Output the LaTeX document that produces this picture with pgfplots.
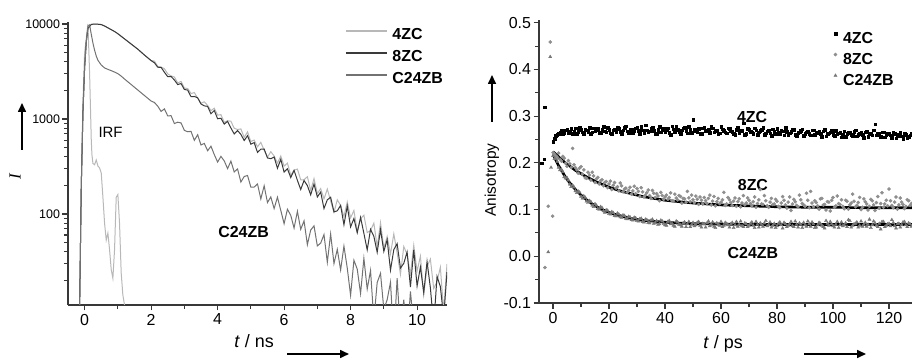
\documentclass[border=0pt]{standalone}
\usepackage{pgfplots}
\pgfplotsset{compat=1.18}
\usepackage{fontspec}
\setmainfont{Liberation Sans}
\newfontfamily\seriffont{Liberation Serif}
\usetikzlibrary{arrows.meta}
\definecolor{cA}{HTML}{B8B8B8}
\definecolor{cB}{HTML}{3A3A3A}
\definecolor{cC}{HTML}{727272}
\definecolor{axc}{HTML}{383838}
\definecolor{g8}{HTML}{8E8E8E}
\definecolor{g24}{HTML}{777777}
\begin{document}
\begin{tikzpicture}
\path[use as bounding box] (0bp,0bp) rectangle (912bp,360bp);
% ---------------- left panel ----------------
\begin{axis}[
  at={(68bp,55bp)}, anchor=south west,
  scale only axis, width=379bp, height=283bp,
  xmin=-0.5, xmax=10.9, ymode=log, ymin=11, ymax=10500,
  axis x line*=bottom, axis y line*=left,
  axis line style={line width=1.1bp, color=axc},
  xtick={0,2,4,6,8,10}, xticklabels={0,2,4,6,8,10}, minor xtick={1,3,5,7,9},
  ytick={100,1000,10000}, yticklabels={100,1000,10000},
  minor ytick={20,30,40,50,60,70,80,90,200,300,400,500,600,700,800,900,2000,3000,4000,5000,6000,7000,8000,9000},
  tick align=outside, major tick length=5.5bp, minor tick length=4bp,
  every major tick/.style={line width=1.1bp, color=axc},
  every minor tick/.style={line width=1.1bp, color=axc},
  x tick label style={font=\fontsize{16}{16}\selectfont},
  y tick label style={font=\fontsize{12.5}{12.5}\selectfont, xshift=1bp},
  legend style={draw=none, fill=none, at={(0.731,0.985)}, anchor=north west,
    font=\bfseries\fontsize{16}{16}\selectfont, row sep=5bp, inner sep=0pt,
    nodes={inner sep=1bp, text height=12bp, text depth=3bp},
    /tikz/every odd column/.append style={column sep=4bp}},
  legend cell align=left,
  legend image code/.code={\draw[#1, line width=1.2bp] (0bp,4bp) -- (41bp,4bp);},
]
% IRF
\addplot[cA, line width=1bp, forget plot] table {
x y
-0.5 2
-0.2 3
-0.15 11
-0.1 200
-0.05 1500
0 5000
0.1 10000
0.15 3000
0.2 600
0.22 420
0.25 340
0.3 330
0.35 370
0.4 320
0.45 305
0.5 270
0.55 150
0.6 80
0.65 53
0.7 63
0.75 42
0.8 26
0.85 21
0.9 42
0.95 150
1.0 160
1.05 80
1.1 24
1.15 14
1.2 11
1.25 8
1.3 3
};
% 4ZC
\addplot[cA, line width=1bp] table {
x y
-0.5 2
-0.2 3
-0.15 11
-0.1 200
-0.05 1200
0 3500
0.05 6500
0.1 9000
0.2 9900
0.3 10000
0.4 9950
0.5 9864
0.6 9531
0.7 9119
0.8 8723
0.9 8340
1.0 7904
1.1 7424
1.2 6975
1.3 6553
1.4 6156
1.5 5782
1.6 5433
1.7 5058
1.8 4711
1.9 4406
2.0 4120
2.1 4072
2.2 3577
2.3 3521
2.4 3383
2.5 2984
2.6 2840
2.7 2766
2.8 2397
2.9 2486
3.0 2121
3.1 2092
3.2 1854
3.3 1898
3.4 1656
3.5 1465
3.6 1517
3.7 1388
3.8 1223
3.9 1299
4.0 1098
4.1 1110
4.2 923
4.3 958
4.4 947
4.5 798
4.6 775
4.7 786
4.8 639
4.9 731
5.0 578
5.1 601
5.2 510
5.3 567
5.4 469
5.5 396
5.6 453
5.7 408
5.8 343
5.9 408
6.0 319
6.1 343
6.2 256
6.3 289
6.4 297
6.5 229
6.6 229
6.7 247
6.8 176
6.9 236
7.0 164
7.1 185
7.2 144
7.3 183
7.4 137
7.5 104
7.6 141
7.7 123
7.8 94
7.9 134
8.0 91
8.1 108.8
8.2 66.1
8.3 88.9
8.4 97.1
8.5 63.6
8.6 67.0
8.7 80.0
8.8 45.1
8.9 80.9
9.0 43.5
9.1 57.9
9.2 37.9
9.3 61.7
9.4 38.9
9.5 23.1
9.6 45.4
9.7 37.5
9.8 23.2
9.9 46.8
10.0 24.9
10.1 35.9
10.2 14.1
10.3 27.9
10.4 33.5
10.5 16.4
10.6 19.4
10.7 27.5
10.8 9.4
10.9 29.8
};
% 8ZC
\addplot[cB, line width=1bp] table {
x y
-0.5 2
-0.2 3
-0.15 11
-0.1 200
-0.05 1200
0 3500
0.05 6500
0.1 9000
0.2 9900
0.3 10000
0.4 9950
0.5 9864
0.6 9531
0.7 9119
0.8 8723
0.9 8340
1.0 7904
1.1 7424
1.2 6975
1.3 6553
1.4 6156
1.5 5782
1.6 5433
1.7 5058
1.8 4711
1.9 4406
2.0 4120
2.1 3905
2.2 3507
2.3 3501
2.4 3106
2.5 2788
2.6 2802
2.7 2575
2.8 2304
2.9 2361
3.0 2046
3.1 2016
3.2 1719
3.3 1726
3.4 1672
3.5 1438
3.6 1374
3.7 1358
3.8 1135
3.9 1229
4.0 1006
4.1 1018
4.2 884
4.3 944
4.4 804
4.5 696
4.6 756
4.7 688
4.8 593
4.9 667
5.0 543
5.1 564
5.2 445
5.3 481
5.4 483
5.5 389
5.6 382
5.7 398
5.8 303
5.9 376
6.0 276
6.1 299
6.2 242
6.3 288
6.4 226
6.5 181
6.6 225
6.7 199
6.8 159
6.9 207
7.0 151
7.1 170
7.2 114
7.3 141
7.4 150
7.5 105
7.6 108
7.7 123
7.8 77
7.9 121
8.0 73
8.1 89.5
8.2 63.4
8.3 92.1
8.4 62.5
8.5 41.9
8.6 68.8
8.7 58.1
8.8 39.5
8.9 68.4
9.0 40.3
9.1 53.5
9.2 25.6
9.3 42.1
9.4 48.7
9.5 26.9
9.6 30.2
9.7 39.8
9.8 17.0
9.9 41.8
10.0 17.4
10.1 27.6
10.2 14.9
10.3 31.5
10.4 16.7
10.5 6.7
10.6 22.0
10.7 17.2
10.8 8.1
10.9 24.4
};
% C24ZB
\addplot[cC, line width=1bp] table {
x y
-0.5 2
-0.2 3
-0.15 11
-0.1 200
-0.05 1200
0 3500
0.05 6500
0.1 9500
0.15 9800
0.2 7800
0.25 6300
0.3 5300
0.35 4600
0.4 4150
0.5 3700
0.6 3450
0.7 3330
0.8 3230
0.9 3120
1.0 3000
1.1 2830
1.2 2635
1.3 2465
1.4 2306
1.5 2157
1.6 2018
1.7 1888
1.8 1766
1.9 1652
2.0 1546
2.1 1492
2.2 1364
2.3 1201
2.4 1277
2.5 1077
2.6 1084
2.7 895
2.8 925
2.9 909
3.0 759
3.1 734
3.2 741
3.3 596
3.4 682
3.5 532
3.6 553
3.7 463
3.8 517
3.9 422
4.0 352
4.1 404
4.2 362
4.3 300
4.4 360
4.5 277
4.6 298
4.7 217
4.8 248
4.9 254
5.0 192
5.1 192
5.2 207
5.3 144
5.4 198
5.5 132
5.6 151
5.7 114
5.8 150
5.9 109
6.0 79
6.1 112
6.2 96.7
6.3 71
6.4 106.6
6.5 68.9
6.6 84.6
6.7 47.5
6.8 67.7
6.9 74.9
7.0 46.1
7.1 49.3
7.2 60.7
7.3 31.0
7.4 61.7
7.5 30.0
7.6 42.4
7.7 25.7
7.8 45.9
7.9 26.9
8.0 13.9
8.1 32.6
8.2 26.2
8.3 14.5
8.4 34.1
8.5 16.2
8.6 25.4
8.7 7.6
8.8 19.0
8.9 23.7
9.0 9.9
9.1 12.5
9.2 19.1
9.3 4.7
9.4 21.1
9.5 5.6
9.6 12.5
9.7 4.6
9.8 15.3
9.9 6.4
10.0 3
10.1 9.8
10.2 7.2
10.3 2.5
10.4 10.8
10.5 3.8
10.6 7.5
10.7 2
10.8 5.3
10.9 7
};
\legend{4ZC,8ZC,C24ZB}
\node[font=\fontsize{15}{15}\selectfont] at (axis cs:0.78,730) {IRF};
\node[font=\bfseries\fontsize{16}{16}\selectfont] at (axis cs:4.78,65) {C24ZB};
\end{axis}
% ---------------- right panel ----------------
\begin{axis}[
  at={(539bp,57bp)}, anchor=south west,
  scale only axis, width=373bp, height=283bp,
  xmin=-5, xmax=128.2, ymin=-0.1, ymax=0.506,
  axis x line*=bottom, axis y line*=left,
  axis line style={line width=1.1bp, color=axc},
  xtick={0,20,40,60,80,100,120}, xticklabels={0,20,40,60,80,100,120},
  minor xtick={10,30,50,70,90,110},
  ytick={-0.1,0,0.1,0.2,0.3,0.4,0.5}, yticklabels={-0.1,0.0,0.1,0.2,0.3,0.4,0.5},
  minor ytick={-0.05,0.05,0.15,0.25,0.35,0.45},
  tick align=outside, major tick length=5.5bp, minor tick length=4bp,
  every major tick/.style={line width=1.1bp, color=axc},
  every minor tick/.style={line width=1.1bp, color=axc},
  x tick label style={font=\fontsize{16}{16}\selectfont},
  y tick label style={font=\fontsize{16}{16}\selectfont, xshift=1bp},
  legend style={draw=none, fill=none, at={(0.79,0.965)}, anchor=north west,
    font=\bfseries\fontsize{16}{16}\selectfont, row sep=4bp, inner sep=0pt,
    nodes={inner sep=1bp, text height=12bp, text depth=3bp},
    /tikz/every odd column/.append style={column sep=5bp}},
  legend cell align=left,
  legend image code/.code={\draw[#1] plot coordinates {(4bp,5bp)};},
]
% 4ZC
\addplot[only marks, mark=square*, mark size=1.3bp, black] table {
x y
-2.9 0.319
-3.2 0.208
-4.1 0.199
0 0.245
1 0.258
2 0.262
3 0.27
4 0.264
5 0.272
6 0.268
7 0.263
8 0.274
9 0.267
10 0.271
11 0.262
12 0.27
13 0.276
14 0.266
15 0.269
16 0.273
17 0.264
18 0.278
19 0.266
20 0.271
21 0.263
22 0.272
23 0.275
24 0.267
25 0.27
26 0.279
27 0.264
28 0.272
29 0.268
30 0.276
31 0.262
32 0.27
33 0.281
34 0.266
35 0.273
36 0.269
37 0.263
38 0.277
39 0.27
40 0.267
41 0.274
42 0.261
43 0.272
44 0.278
45 0.266
46 0.27
47 0.275
48 0.264
49 0.271
50 0.292
51 0.268
52 0.273
53 0.263
54 0.276
55 0.27
56 0.265
57 0.274
58 0.268
59 0.262
60 0.277
61 0.269
62 0.264
63 0.273
64 0.267
65 0.26
66 0.275
67 0.27
68 0.285
69 0.263
70 0.271
71 0.266
72 0.274
73 0.26
74 0.269
75 0.276
76 0.264
77 0.27
78 0.258
79 0.267
80 0.273
81 0.262
82 0.268
83 0.275
84 0.261
85 0.267
86 0.271
87 0.257
88 0.266
89 0.272
90 0.263
91 0.268
92 0.259
93 0.27
94 0.264
95 0.267
96 0.256
97 0.271
98 0.262
99 0.266
100 0.26
101 0.269
102 0.264
103 0.255
104 0.268
105 0.262
106 0.266
107 0.258
108 0.27
109 0.261
110 0.265
111 0.254
112 0.267
113 0.262
114 0.259
115 0.283
116 0.263
117 0.256
118 0.266
119 0.26
120 0.264
121 0.254
122 0.262
123 0.258
124 0.265
125 0.252
126 0.26
127 0.256
128 0.262
};
% 8ZC
\addplot[only marks, mark=*, mark size=1.6bp, g8] table {
x y
-1 0.459
-1.7 0.107
-0.1 0.086
-2.9 -0.024
0 0.222
1 0.215
2 0.221
3 0.204
4 0.21
5 0.193
6 0.198
7 0.231
8 0.19
9 0.178
10 0.192
11 0.185
12 0.167
13 0.174
14 0.18
15 0.158
16 0.169
17 0.162
18 0.151
19 0.16
20 0.155
21 0.143
22 0.158
23 0.149
24 0.157
25 0.138
26 0.146
27 0.141
28 0.133
29 0.15
30 0.145
31 0.128
32 0.138
33 0.131
34 0.142
35 0.124
36 0.135
37 0.134
38 0.119
39 0.13
40 0.127
41 0.122
42 0.136
43 0.118
44 0.125
45 0.13
46 0.114
47 0.123
48 0.139
49 0.117
50 0.121
51 0.129
52 0.111
53 0.12
54 0.126
55 0.113
56 0.131
57 0.118
58 0.108
59 0.124
60 0.116
61 0.137
62 0.112
63 0.121
64 0.109
65 0.125
66 0.117
67 0.106
68 0.13
69 0.114
70 0.12
71 0.108
72 0.127
73 0.113
74 0.143
75 0.111
76 0.119
77 0.105
78 0.124
79 0.112
80 0.118
81 0.104
82 0.128
83 0.11
84 0.116
85 0.098
86 0.122
87 0.109
88 0.131
89 0.113
90 0.107
91 0.12
92 0.139
93 0.106
94 0.115
95 0.101
96 0.124
97 0.111
98 0.117
99 0.097
100 0.126
101 0.108
102 0.113
103 0.121
104 0.102
105 0.118
106 0.11
107 0.133
108 0.106
109 0.115
110 0.1
111 0.123
112 0.112
113 0.107
114 0.119
115 0.098
116 0.128
117 0.113
118 0.105
119 0.12
120 0.144
121 0.109
122 0.116
123 0.101
124 0.125
125 0.111
126 0.107
127 0.119
128 0.113
};
% C24ZB
\addplot[only marks, mark=triangle*, mark size=1.8bp, g24] table {
x y
-1 0.427
-1.7 0.009
-0.7 0.19
0 0.215
1 0.209
2 0.19
3 0.186
4 0.17
5 0.168
6 0.154
7 0.152
8 0.14
9 0.139
10 0.128
11 0.129
12 0.118
13 0.119
14 0.109
15 0.112
16 0.102
17 0.106
18 0.097
19 0.099
20 0.091
21 0.095
22 0.087
23 0.092
24 0.084
25 0.088
26 0.081
27 0.085
28 0.078
29 0.083
30 0.076
31 0.08
32 0.074
33 0.079
34 0.072
35 0.077
36 0.07
37 0.076
38 0.069
39 0.075
40 0.067
41 0.074
42 0.069
43 0.066
44 0.075
45 0.068
46 0.064
47 0.073
48 0.069
49 0.063
50 0.072
51 0.067
52 0.074
53 0.062
54 0.069
55 0.071
56 0.065
57 0.073
58 0.061
59 0.068
60 0.074
61 0.066
62 0.07
63 0.062
64 0.072
65 0.067
66 0.064
67 0.075
68 0.063
69 0.069
70 0.066
71 0.073
72 0.061
73 0.068
74 0.071
75 0.064
76 0.076
77 0.067
78 0.062
79 0.07
80 0.065
81 0.073
82 0.06
83 0.069
84 0.066
85 0.074
86 0.063
87 0.068
88 0.071
89 0.061
90 0.067
91 0.075
92 0.064
93 0.069
94 0.062
95 0.072
96 0.066
97 0.06
98 0.07
99 0.074
100 0.065
101 0.068
102 0.061
103 0.073
104 0.067
105 0.063
106 0.076
107 0.066
108 0.07
109 0.062
110 0.075
111 0.068
112 0.064
113 0.079
114 0.067
115 0.071
116 0.063
117 0.058
118 0.074
119 0.066
120 0.07
121 0.078
122 0.065
123 0.069
124 0.062
125 0.073
126 0.067
127 0.071
128 0.064
};
\legend{4ZC,8ZC,C24ZB}
% additional half-step samples
\addplot[only marks, mark=square*, mark size=1.3bp, black, forget plot] coordinates {
(0.5,0.252)(1.5,0.261)(2.5,0.266)(3.5,0.263)(4.5,0.27)(5.5,0.265)(6.5,0.273)(7.5,0.268)(8.5,0.262)(9.5,0.275)
(10.5,0.266)(11.5,0.272)(12.5,0.267)(13.5,0.263)(14.5,0.274)(15.5,0.27)(16.5,0.265)(17.5,0.271)(18.5,0.268)(19.5,0.276)
(20.5,0.264)(21.5,0.27)(22.5,0.267)(23.5,0.273)(24.5,0.262)(25.5,0.275)(26.5,0.268)(27.5,0.271)(28.5,0.265)(29.5,0.274)
(30.5,0.269)(31.5,0.277)(32.5,0.264)(33.5,0.27)(34.5,0.268)(35.5,0.276)(36.5,0.262)(37.5,0.271)(38.5,0.266)(39.5,0.274)
(40.5,0.27)(41.5,0.265)(42.5,0.279)(43.5,0.267)(44.5,0.271)(45.5,0.263)(46.5,0.274)(47.5,0.269)(48.5,0.277)(49.5,0.265)
(50.5,0.271)(51.5,0.267)(52.5,0.262)(53.5,0.274)(54.5,0.268)(55.5,0.272)(56.5,0.279)(57.5,0.266)(58.5,0.27)(59.5,0.264)
(60.5,0.272)(61.5,0.266)(62.5,0.274)(63.5,0.268)(64.5,0.263)(65.5,0.271)(66.5,0.265)(67.5,0.269)(68.5,0.261)(69.5,0.273)
(70.5,0.267)(71.5,0.262)(72.5,0.27)(73.5,0.266)(74.5,0.271)(75.5,0.26)(76.5,0.268)(77.5,0.264)(78.5,0.272)(79.5,0.262)
(80.5,0.266)(81.5,0.27)(82.5,0.259)(83.5,0.267)(84.5,0.264)(85.5,0.272)(86.5,0.261)(87.5,0.265)(88.5,0.269)(89.5,0.258)
(90.5,0.266)(91.5,0.262)(92.5,0.27)(93.5,0.26)(94.5,0.265)(95.5,0.262)(96.5,0.268)(97.5,0.257)(98.5,0.264)(99.5,0.269)
(100.5,0.258)(101.5,0.263)(102.5,0.266)(103.5,0.26)(104.5,0.256)(105.5,0.265)(106.5,0.261)(107.5,0.267)(108.5,0.257)(109.5,0.263)
(110.5,0.26)(111.5,0.266)(112.5,0.256)(113.5,0.264)(114.5,0.27)(115.5,0.259)(116.5,0.262)(117.5,0.266)(118.5,0.255)(119.5,0.263)
(120.5,0.259)(121.5,0.265)(122.5,0.253)(123.5,0.26)(124.5,0.257)(125.5,0.263)(126.5,0.254)(127.5,0.259)};
\addplot[only marks, mark=*, mark size=1.6bp, g8, forget plot] coordinates {
(0.5,0.219)(1.5,0.212)(2.5,0.208)(3.5,0.214)(4.5,0.199)(5.5,0.205)(6.5,0.19)(7.5,0.196)(8.5,0.185)(9.5,0.189)
(10.5,0.176)(11.5,0.168)(12.5,0.18)(13.5,0.163)(14.5,0.172)(15.5,0.166)(16.5,0.155)(17.5,0.164)(18.5,0.158)(19.5,0.147)
(20.5,0.161)(21.5,0.152)(22.5,0.146)(23.5,0.14)(24.5,0.151)(25.5,0.144)(26.5,0.137)(27.5,0.148)(28.5,0.14)(29.5,0.134)
(30.5,0.139)(31.5,0.147)(32.5,0.127)(33.5,0.136)(34.5,0.13)(35.5,0.141)(36.5,0.126)(37.5,0.129)(38.5,0.137)(39.5,0.122)
(40.5,0.131)(41.5,0.126)(42.5,0.119)(43.5,0.133)(44.5,0.121)(45.5,0.128)(46.5,0.124)(47.5,0.116)(48.5,0.125)(49.5,0.131)
(50.5,0.115)(51.5,0.122)(52.5,0.127)(53.5,0.112)(54.5,0.119)(55.5,0.124)(56.5,0.11)(57.5,0.128)(58.5,0.117)(59.5,0.113)
(60.5,0.121)(61.5,0.109)(62.5,0.126)(63.5,0.115)(64.5,0.118)(65.5,0.107)(66.5,0.123)(67.5,0.114)(68.5,0.11)(69.5,0.125)
(70.5,0.113)(71.5,0.117)(72.5,0.105)(73.5,0.121)(74.5,0.112)(75.5,0.13)(76.5,0.108)(77.5,0.116)(78.5,0.111)(79.5,0.122)
(80.5,0.107)(81.5,0.114)(82.5,0.12)(83.5,0.103)(84.5,0.127)(85.5,0.112)(86.5,0.117)(87.5,0.106)(88.5,0.121)(89.5,0.11)
(90.5,0.135)(91.5,0.104)(92.5,0.114)(93.5,0.119)(94.5,0.108)(95.5,0.123)(96.5,0.11)(97.5,0.099)(98.5,0.116)(99.5,0.12)
(100.5,0.105)(101.5,0.129)(102.5,0.111)(103.5,0.107)(104.5,0.12)(105.5,0.101)(106.5,0.114)(107.5,0.118)(108.5,0.109)(109.5,0.126)
(110.5,0.105)(111.5,0.117)(112.5,0.099)(113.5,0.122)(114.5,0.11)(115.5,0.115)(116.5,0.103)(117.5,0.136)(118.5,0.112)(119.5,0.108)
(120.5,0.119)(121.5,0.104)(122.5,0.127)(123.5,0.11)(124.5,0.116)(125.5,0.102)(126.5,0.121)(127.5,0.109)};
\addplot[only marks, mark=triangle*, mark size=1.8bp, g24, forget plot] coordinates {
(0.5,0.209)(1.5,0.203)(2.5,0.185)(3.5,0.181)(4.5,0.167)(5.5,0.163)(6.5,0.149)(7.5,0.148)(8.5,0.136)(9.5,0.137)
(10.5,0.124)(11.5,0.126)(12.5,0.115)(13.5,0.117)(14.5,0.106)(15.5,0.109)(16.5,0.1)(17.5,0.104)(18.5,0.094)(19.5,0.098)
(20.5,0.09)(21.5,0.093)(22.5,0.086)(23.5,0.09)(24.5,0.083)(25.5,0.087)(26.5,0.08)(27.5,0.084)(28.5,0.077)(29.5,0.082)
(30.5,0.075)(31.5,0.081)(32.5,0.073)(33.5,0.078)(34.5,0.071)(35.5,0.079)(36.5,0.072)(37.5,0.068)(38.5,0.077)(39.5,0.07)
(40.5,0.066)(41.5,0.076)(42.5,0.07)(43.5,0.064)(44.5,0.073)(45.5,0.067)(46.5,0.071)(47.5,0.063)(48.5,0.074)(49.5,0.068)
(50.5,0.065)(51.5,0.072)(52.5,0.066)(53.5,0.07)(54.5,0.062)(55.5,0.075)(56.5,0.068)(57.5,0.064)(58.5,0.071)(59.5,0.066)
(60.5,0.063)(61.5,0.072)(62.5,0.067)(63.5,0.069)(64.5,0.061)(65.5,0.074)(66.5,0.068)(67.5,0.065)(68.5,0.071)(69.5,0.063)
(70.5,0.07)(71.5,0.066)(72.5,0.074)(73.5,0.062)(74.5,0.068)(75.5,0.071)(76.5,0.065)(77.5,0.073)(78.5,0.066)(79.5,0.061)
(80.5,0.07)(81.5,0.067)(82.5,0.072)(83.5,0.063)(84.5,0.069)(85.5,0.065)(86.5,0.075)(87.5,0.062)(88.5,0.068)(89.5,0.072)
(90.5,0.064)(91.5,0.069)(92.5,0.073)(93.5,0.061)(94.5,0.067)(95.5,0.07)(96.5,0.063)(97.5,0.076)(98.5,0.066)(99.5,0.069)
(100.5,0.062)(101.5,0.074)(102.5,0.067)(103.5,0.065)(104.5,0.071)(105.5,0.078)(106.5,0.062)(107.5,0.069)(108.5,0.073)(109.5,0.066)
(110.5,0.064)(111.5,0.072)(112.5,0.068)(113.5,0.061)(114.5,0.075)(115.5,0.066)(116.5,0.07)(117.5,0.074)(118.5,0.063)(119.5,0.069)
(120.5,0.065)(121.5,0.072)(122.5,0.06)(123.5,0.07)(124.5,0.067)(125.5,0.074)(126.5,0.063)(127.5,0.069)};
% fits
\addplot[black, line width=2.6bp, forget plot] coordinates {
(0,0.224)(2,0.213)(4,0.202)(6,0.193)(8,0.184)(10,0.177)(12,0.170)(14,0.164)
(16,0.158)(18,0.153)(20,0.148)(22,0.144)(24,0.140)(26,0.137)(28,0.134)(30,0.131)
(32,0.128)(34,0.126)(36,0.124)(38,0.122)(40,0.120)(45,0.117)(50,0.114)(55,0.112)
(60,0.110)(70,0.108)(80,0.106)(90,0.105)(100,0.105)(110,0.104)(128.2,0.104)};
\addplot[black, line width=2.6bp, forget plot] coordinates {
(0,0.218)(1,0.206)(2,0.194)(3,0.184)(4,0.174)(5,0.165)(6,0.157)(7,0.150)(8,0.143)
(9,0.137)(10,0.131)(12,0.121)(14,0.112)(16,0.105)(18,0.099)(20,0.094)(22,0.090)
(24,0.087)(26,0.084)(28,0.081)(30,0.079)(32,0.077)(34,0.076)(36,0.075)(38,0.074)
(40,0.073)(45,0.071)(50,0.070)(60,0.069)(70,0.068)(128.2,0.068)};
\node[font=\bfseries\fontsize{16}{16}\selectfont] at (axis cs:71.1,0.298) {4ZC};
\node[font=\bfseries\fontsize{16}{16}\selectfont] at (axis cs:71.4,0.152) {8ZC};
\node[font=\bfseries\fontsize{16}{16}\selectfont] at (axis cs:71.4,0.006) {C24ZB};
\end{axis}
% ---------------- outer labels and arrows ----------------
\node[anchor=base, font=\fontsize{18}{18}\selectfont] at (254bp,13bp) {\textit{t} / ns};
\node[anchor=base, font=\fontsize{18}{18}\selectfont] at (723bp,12bp) {\textit{t} / ps};
\draw[line width=1.6bp, -{Triangle[length=9bp,width=8bp]}] (287bp,6bp) -- (349bp,6bp);
\draw[line width=1.6bp, -{Triangle[length=9bp,width=8bp]}] (804bp,6bp) -- (866bp,6bp);
\draw[line width=1.6bp, -{Triangle[length=9bp,width=8bp]}] (22bp,210bp) -- (22bp,257bp);
\draw[line width=1.6bp, -{Triangle[length=9bp,width=8bp]}] (492bp,238bp) -- (492bp,285bp);
\node[rotate=90, font=\seriffont\itshape\fontsize{17}{17}\selectfont] at (15bp,183bp) {I};
\node[rotate=90, font=\fontsize{15.5}{15.5}\selectfont] at (492bp,180bp) {Anisotropy};
\end{tikzpicture}
\end{document}
